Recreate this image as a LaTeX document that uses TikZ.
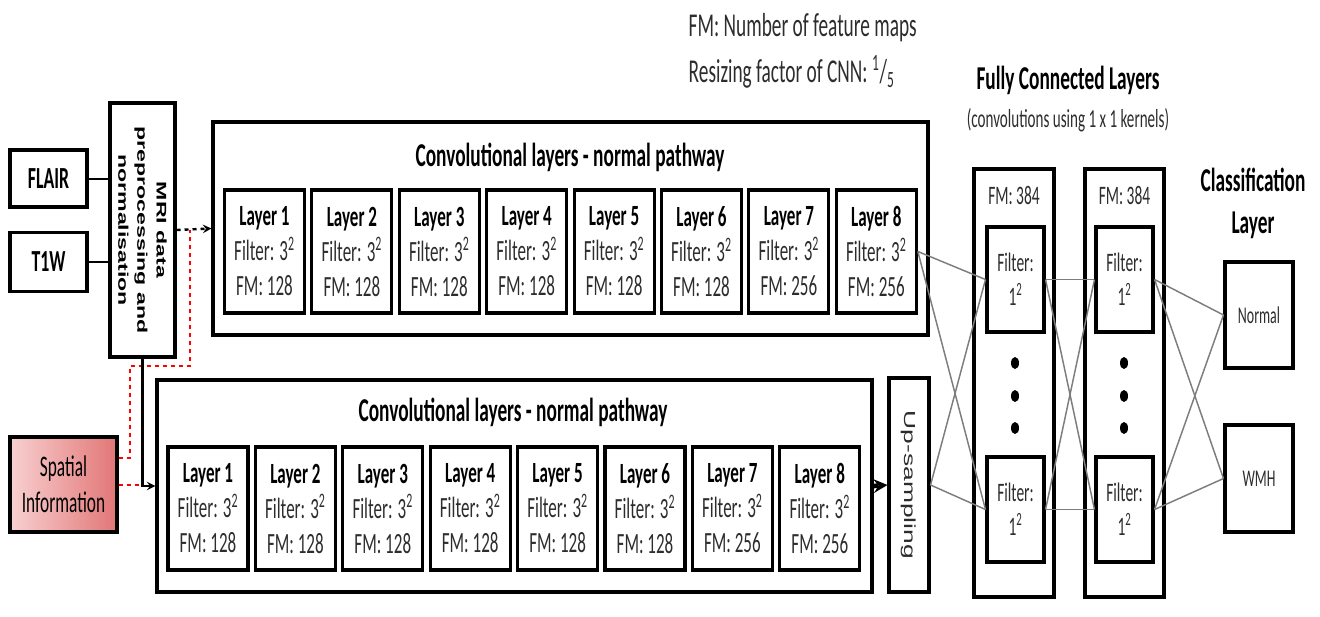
\documentclass[tikz,border=0pt]{standalone}
\usepackage{fontspec}
\setmainfont{Carlito}[FakeStretch=0.58]
\newfontfamily\rotfont{Liberation Sans}[FakeStretch=1.65]
\usetikzlibrary{positioning,arrows,calc}

\definecolor{txtgrey}{RGB}{45,45,45}
\definecolor{linegrey}{RGB}{125,125,125}
\definecolor{spatlight}{RGB}{248,208,208}
\definecolor{spatdark}{RGB}{226,118,118}

\tikzset{
  box/.style={draw=black, line width=2.3pt, inner sep=0pt, fill=white},
  layerbox/.style={box, minimum width=60pt, minimum height=92.25pt, align=center,
    font=\fontsize{22}{26.25}\selectfont},
  filterbox/.style={box, minimum width=42.75pt, minimum height=78.75pt, align=center,
    text=txtgrey, font=\fontsize{20}{25.5}\selectfont},
  fcbox/.style={box, minimum width=60pt, minimum height=321pt},
  classbox/.style={box, minimum width=51pt, minimum height=80pt,
    text=txtgrey, font=\fontsize{18}{20}\selectfont},
  heading/.style={font=\bfseries\fontsize{25}{31.5}\selectfont, align=center},
  fclink/.style={draw=linegrey, line width=1.1pt},
  reddash/.style={draw=red, dashed, line width=1.5pt},
}

\begin{document}
\begin{tikzpicture}[x=0.75pt,y=-0.75pt]
  \useasboundingbox (0,0) rectangle (1320,617);

  % notes on top
  \node[anchor=west, text=txtgrey, font=\fontsize{25}{30}\selectfont] (fmnote) at (684,28) {FM: Number of feature maps};
  \node[anchor=west, text=txtgrey, font=\fontsize{25}{30}\selectfont] (rsnote) at (684,72) {Resizing factor of CNN: \textsuperscript{1}/\textsubscript{5}};
  \node[heading] (fctitle) at (1068,80) {Fully Connected Layers};
  \node[text=txtgrey, font=\fontsize{19.5}{24}\selectfont] (fcsub) at (1068,120) {(convolutions using 1 x 1 kernels)};
  \node[heading] (cltitle) at (1253,203) {Classification\\Layer};

  % inputs
  \node[box, minimum width=57.75pt, minimum height=42.75pt, font=\bfseries\fontsize{23}{26}\selectfont] (flair) at (48.5,178.5) {FLAIR};
  \node[box, minimum width=57.75pt, minimum height=44.25pt, font=\bfseries\fontsize{23}{26}\selectfont] (t1w) at (48.5,262) {T1W};
  \node[box, minimum width=48.75pt, minimum height=190.5pt] (mri) at (142.5,230) {};
  \node[rotate=-90, align=center, font=\rotfont\bfseries\fontsize{10.5}{14.3}\selectfont] (mritext) at (mri) {MRI data\\preprocessing and\\normalisation};
  \node[box, left color=spatlight, right color=spatdark, minimum width=80.25pt, minimum height=71.25pt,
    align=center, text=black, font=\fontsize{22.4}{27}\selectfont] (spatial) at (63.5,484.5) {Spatial\\Information};

  \draw[line width=1.5pt] (flair) -- (flair -| mri.west);
  \draw[line width=1.5pt] (t1w) -- (t1w -| mri.west);

  % convolutional pathways
  \node[box, minimum width=536.25pt, minimum height=159.75pt] (convA) at (570.5,228.5) {};
  \node[heading] (convAtitle) at (570,157) {Convolutional layers - normal pathway};
  \node[box, minimum width=536.25pt, minimum height=159pt] (convB) at (514.5,486) {};
  \node[heading] (convBtitle) at (513,412) {Convolutional layers - normal pathway};

  \foreach \i/\fm in {1/128,2/128,3/128,4/128,5/128,6/128,7/256,8/256}{
    \node[layerbox] (la\i) at ({264.5+87.4*(\i-1)},251.5)
      {\textbf{Layer \i}\\{\color{txtgrey}Filter: 3\textsuperscript{2}}\\{\color{txtgrey}FM: \fm}};
    \node[layerbox] (lb\i) at ({208+87.4*(\i-1)},508.5)
      {\textbf{Layer \i}\\{\color{txtgrey}Filter: 3\textsuperscript{2}}\\{\color{txtgrey}FM: \fm}};
  }

  \node[box, minimum width=30pt, minimum height=160.5pt] (up) at (909,485) {};
  \node[rotate=-90, text=txtgrey, font=\rotfont\fontsize{12}{14}\selectfont] (uptext) at (up) {Up-sampling};

  % links into the pathways
  \coordinate (tap) at (190,230);
  \coordinate (bend) at (130,366);
  \draw[reddash] ($(spatial.east)+(0,-27)$) -| (bend) -| (tap);
  \draw[reddash] (spatial.east) -- (spatial.east -| mri.south);
  \draw[dashed, line width=1.8pt, -stealth] (mri.east) -- (convA.west);
  \draw[line width=1.8pt, -stealth] (mri.south) |- (convB.west);
  \draw[line width=3.5pt, -stealth] (convB.east) -- (up.west);

  % fully connected layers
  \node[fcbox] (fcA) at (1014,383) {};
  \node[fcbox, minimum width=59.25pt] (fcB) at (1124.5,383) {};
  \node[text=txtgrey, font=\fontsize{20}{24}\selectfont] (fmA) at (1014,195) {FM: 384};
  \node[text=txtgrey, font=\fontsize{20}{24}\selectfont] (fmB) at (1124.5,195) {FM: 384};
  \node[filterbox] (fcA1) at (1015.5,279.5) {Filter:\\1\textsuperscript{2}};
  \node[filterbox] (fcA2) at (1015.5,509.5) {Filter:\\1\textsuperscript{2}};
  \node[filterbox] (fcB1) at (1124.5,279.5) {Filter:\\1\textsuperscript{2}};
  \node[filterbox] (fcB2) at (1124.5,509.5) {Filter:\\1\textsuperscript{2}};
  \foreach \y in {363,396,428}{
    \fill (1015,\y) ellipse (4 and 6);
    \fill (1124,\y) ellipse (4 and 6);
  }

  % classification
  \node[classbox, minimum height=79.5pt] (normal) at (1259,315) {Normal};
  \node[classbox, minimum height=80.25pt] (wmh) at (1259,478.5) {WMH};

  \foreach \a/\b in {la8/fcA1,la8/fcA2,up/fcA1,up/fcA2,fcA1/fcB1,fcA1/fcB2,fcA2/fcB1,fcA2/fcB2,fcB1/normal,fcB1/wmh,fcB2/normal,fcB2/wmh}
    \draw[fclink] (\a.east) -- (\b.west);

\end{tikzpicture}
\end{document}
